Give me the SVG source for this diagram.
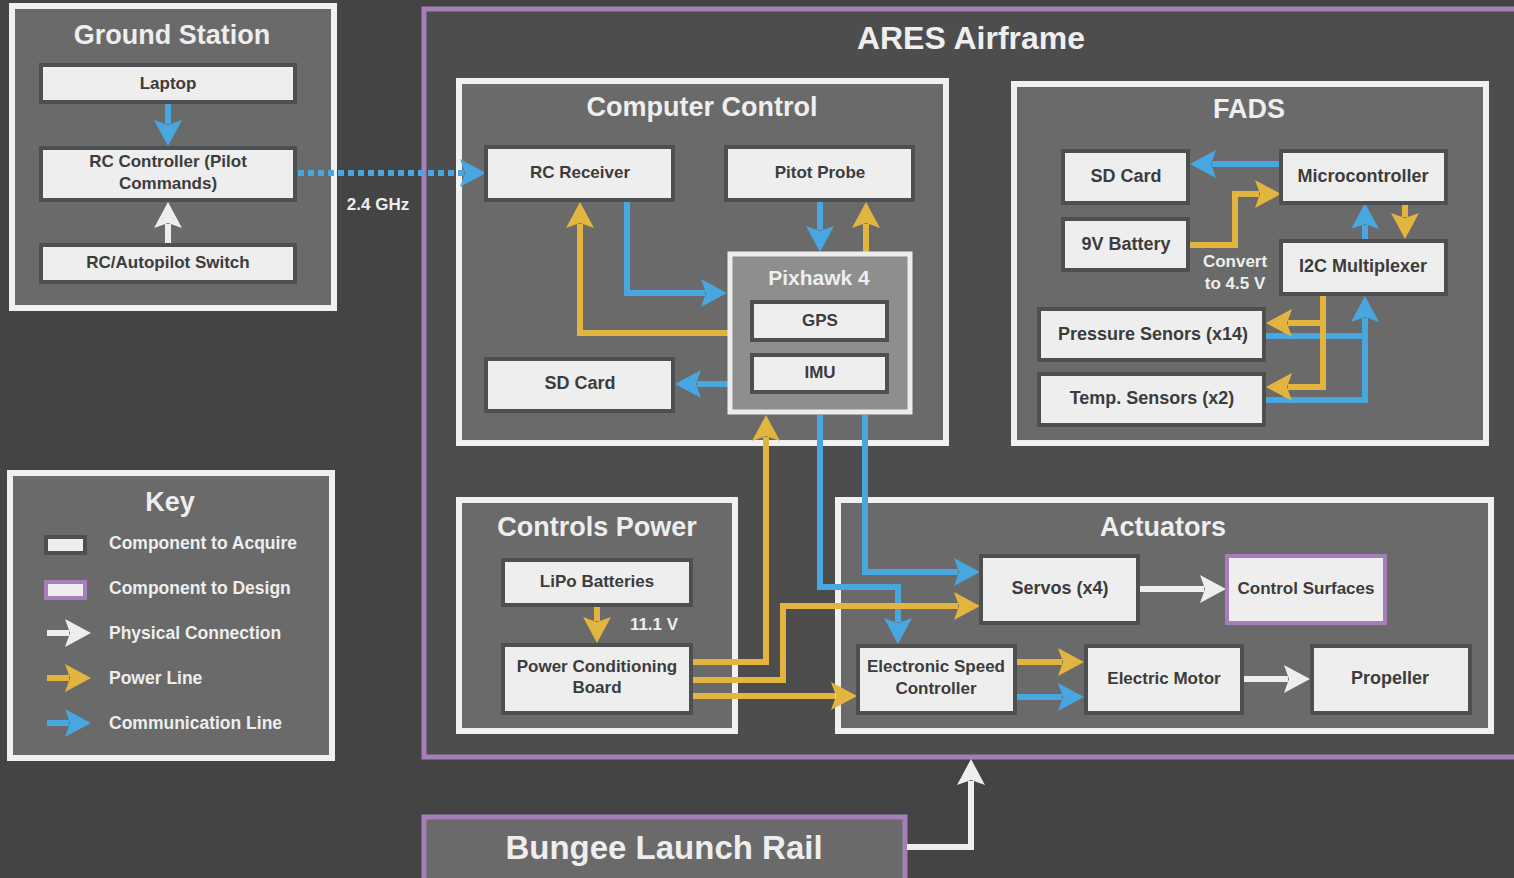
<svg xmlns="http://www.w3.org/2000/svg" width="1514" height="878" viewBox="0 0 1514 878">
<defs>
<style>
.bg{fill:#444444}
.cont{fill:#6a6a6a;stroke:#f0f0f0;stroke-width:6}
.node{fill:#eeeeee;stroke:#4d5053;stroke-width:4}
.design{fill:#eeeeee;stroke:#a47fba;stroke-width:4}
.t{font-family:"Liberation Sans",Arial,sans-serif;font-weight:bold;text-anchor:middle}
.nt{font-size:17px;fill:#3c3c3c}
.nl{font-size:18px;fill:#3c3c3c}
.ct{font-size:27px;fill:#eeeeee}
.lt{font-size:17px;fill:#eeeeee}
.kt{font-family:"Liberation Sans",Arial,sans-serif;font-weight:bold;font-size:17.5px;fill:#eeeeee}
.b{fill:none;stroke:#48a6e0;stroke-width:6}
.y{fill:none;stroke:#e1b53f;stroke-width:6}
.w{fill:none;stroke:#eeeeee;stroke-width:6}
</style>
<marker id="aB" markerUnits="userSpaceOnUse" markerWidth="30" markerHeight="30" viewBox="0 -15 30 30" refX="4" refY="0" orient="auto" overflow="visible"><path d="M0,-14 L26,0 L0,14 L5,0 Z" fill="#48a6e0"/></marker>
<marker id="aY" markerUnits="userSpaceOnUse" markerWidth="30" markerHeight="30" viewBox="0 -15 30 30" refX="4" refY="0" orient="auto" overflow="visible"><path d="M0,-14 L26,0 L0,14 L5,0 Z" fill="#e1b53f"/></marker>
<marker id="aW" markerUnits="userSpaceOnUse" markerWidth="30" markerHeight="30" viewBox="0 -15 30 30" refX="4" refY="0" orient="auto" overflow="visible"><path d="M0,-14 L26,0 L0,14 L5,0 Z" fill="#eeeeee"/></marker>
</defs>
<rect class="bg" x="0" y="0" width="1514" height="878"/>

<!-- Containers -->
<g id="ares-airframe">
<rect x="424" y="9" width="1100" height="748" fill="#4d4d4d" stroke="#a47fba" stroke-width="5"/>
<text class="t" x="971" y="49" font-size="32" fill="#eeeeee">ARES Airframe</text>
</g>
<g id="ground-station">
<rect class="cont" x="12" y="6" width="322" height="302"/>
<text class="t ct" x="172" y="44">Ground Station</text>
</g>
<g id="computer-control">
<rect class="cont" x="459" y="81" width="487" height="362"/>
<text class="t ct" x="702" y="116">Computer Control</text>
</g>
<g id="fads">
<rect class="cont" x="1014" y="84" width="472" height="359"/>
<text class="t ct" x="1249" y="118">FADS</text>
</g>
<g id="controls-power">
<rect class="cont" x="459" y="500" width="276" height="231"/>
<text class="t ct" x="597" y="536">Controls Power</text>
</g>
<g id="actuators">
<rect class="cont" x="838" y="500" width="653" height="231"/>
<text class="t ct" x="1163" y="536">Actuators</text>
</g>
<g id="key">
<rect class="cont" x="10" y="473" width="322" height="285"/>
<text class="t ct" x="170" y="511">Key</text>
<rect x="46" y="537" width="39" height="16" fill="#eeeeee" stroke="#4d5053" stroke-width="4"/>
<text class="kt" x="109" y="549">Component to Acquire</text>
<rect x="46" y="582" width="39" height="16" fill="#eeeeee" stroke="#a47fba" stroke-width="4"/>
<text class="kt" x="109" y="594">Component to Design</text>
<path class="w" d="M47,633 H69" marker-end="url(#aW)"/>
<text class="kt" x="109" y="639">Physical Connection</text>
<path class="y" d="M47,678 H69" marker-end="url(#aY)"/>
<text class="kt" x="109" y="684">Power Line</text>
<path class="b" d="M47,723 H69" marker-end="url(#aB)"/>
<text class="kt" x="109" y="729">Communication Line</text>
</g>
<g id="bungee-launch-rail">
<rect x="424" y="817" width="481" height="80" fill="#6a6a6a" stroke="#a47fba" stroke-width="5"/>
<text class="t" x="664" y="859" font-size="33" fill="#eeeeee">Bungee Launch Rail</text>
</g>

<!-- Connectors -->
<g id="connectors">
<path class="b" d="M168,104 V124" marker-end="url(#aB)"/>
<path class="w" d="M168,243 V224" marker-end="url(#aW)"/>
<path class="b" d="M298,173 H464" stroke-dasharray="6 4" marker-end="url(#aB)"/>
<path class="b" d="M627,202 V293 H705" marker-end="url(#aB)"/>
<path class="y" d="M730,333 H580 V224" marker-end="url(#aY)"/>
<path class="b" d="M730,384 H697" marker-end="url(#aB)"/>
<path class="b" d="M820,202 V230" marker-end="url(#aB)"/>
<path class="y" d="M866,254 V224" marker-end="url(#aY)"/>
<path class="b" d="M820,415 V587 H898 V622" marker-end="url(#aB)"/>
<path class="b" d="M865,415 V572 H958" marker-end="url(#aB)"/>
<path class="y" d="M693,662 H766 V437" marker-end="url(#aY)"/>
<path class="y" d="M693,680 H783 V606 H958" marker-end="url(#aY)"/>
<path class="y" d="M693,696 H835" marker-end="url(#aY)"/>
<path class="y" d="M597,607 V621" marker-end="url(#aY)"/>
<path class="w" d="M1140,589 H1204" marker-end="url(#aW)"/>
<path class="y" d="M1017,662 H1062" marker-end="url(#aY)"/>
<path class="b" d="M1017,697 H1062" marker-end="url(#aB)"/>
<path class="w" d="M1244,679 H1288" marker-end="url(#aW)"/>
<path class="b" d="M1279,164 H1212" marker-end="url(#aB)"/>
<path class="y" d="M1190,245 H1235 V194 H1259" marker-end="url(#aY)"/>
<path class="b" d="M1365,239 V225" marker-end="url(#aB)"/>
<path class="y" d="M1405,205 V217" marker-end="url(#aY)"/>
<path class="b" d="M1266,336 H1365"/>
<path class="b" d="M1266,400 H1365 V318" marker-end="url(#aB)"/>
<path class="y" d="M1323,296 V323 H1288" marker-end="url(#aY)"/>
<path class="y" d="M1323,323 V387 H1288" marker-end="url(#aY)"/>
<path class="w" d="M907,847 H971 V781" marker-end="url(#aW)"/>
</g>

<!-- Nodes -->
<g id="laptop"><rect class="node" x="41" y="65" width="254" height="37"/><text class="t nt" x="168" y="89">Laptop</text></g>
<g id="rc-controller"><rect class="node" x="41" y="148" width="254" height="52"/><text class="t nt" x="168" y="167">RC Controller (Pilot</text><text class="t nt" x="168" y="189">Commands)</text></g>
<g id="rc-autopilot-switch"><rect class="node" x="41" y="245" width="254" height="37"/><text class="t nt" x="168" y="268">RC/Autopilot Switch</text></g>
<text class="t lt" x="378" y="210" font-size="16">2.4 GHz</text>

<g id="rc-receiver"><rect class="node" x="486" y="147" width="187" height="53"/><text class="t nt" x="580" y="178">RC Receiver</text></g>
<g id="pitot-probe"><rect class="node" x="726" y="147" width="187" height="53"/><text class="t nt" x="820" y="178">Pitot Probe</text></g>
<g id="sd-card-cc"><rect class="node" x="486" y="359" width="187" height="52"/><text class="t nl" x="580" y="389">SD Card</text></g>
<g id="pixhawk-4">
<rect x="730" y="254" width="180" height="158" fill="#8e8e8e" stroke="#ececec" stroke-width="5"/>
<text class="t" x="819" y="285" font-size="21" fill="#eeeeee">Pixhawk 4</text>
<g id="gps"><rect class="node" x="752" y="302" width="135" height="38"/><text class="t nt" x="820" y="326">GPS</text></g>
<g id="imu"><rect class="node" x="752" y="355" width="135" height="37"/><text class="t nt" x="820" y="378">IMU</text></g>
</g>

<g id="sd-card-fads"><rect class="node" x="1063" y="151" width="125" height="52"/><text class="t nl" x="1126" y="182">SD Card</text></g>
<g id="battery-9v"><rect class="node" x="1063" y="219" width="125" height="51"/><text class="t nl" x="1126" y="250">9V Battery</text></g>
<g id="microcontroller"><rect class="node" x="1281" y="151" width="165" height="52"/><text class="t nl" x="1363" y="182">Microcontroller</text></g>
<g id="i2c-multiplexer"><rect class="node" x="1281" y="241" width="165" height="53"/><text class="t nl" x="1363" y="272">I2C Multiplexer</text></g>
<g id="pressure-sensors"><rect class="node" x="1039" y="309" width="225" height="51"/><text class="t nl" x="1153" y="340">Pressure Senors (x14)</text></g>
<g id="temp-sensors"><rect class="node" x="1039" y="374" width="225" height="51"/><text class="t nl" x="1152" y="404">Temp. Sensors (x2)</text></g>
<text class="t lt" x="1235" y="267">Convert</text>
<text class="t lt" x="1235" y="289">to 4.5 V</text>

<g id="lipo-batteries"><rect class="node" x="503" y="560" width="188" height="45"/><text class="t nt" x="597" y="587">LiPo Batteries</text></g>
<text class="t lt" x="654" y="630">11.1 V</text>
<g id="power-conditioning-board"><rect class="node" x="503" y="645" width="188" height="68"/><text class="t nt" x="597" y="672">Power Conditioning</text><text class="t nt" x="597" y="693">Board</text></g>

<g id="servos"><rect class="node" x="981" y="556" width="157" height="67"/><text class="t nl" x="1060" y="594">Servos (x4)</text></g>
<g id="control-surfaces"><rect class="design" x="1227" y="556" width="158" height="67"/><text class="t nt" x="1306" y="594">Control Surfaces</text></g>
<g id="esc"><rect class="node" x="858" y="646" width="157" height="67"/><text class="t nt" x="936" y="672">Electronic Speed</text><text class="t nt" x="936" y="694">Controller</text></g>
<g id="electric-motor"><rect class="node" x="1086" y="646" width="156" height="67"/><text class="t nt" x="1164" y="684">Electric Motor</text></g>
<g id="propeller"><rect class="node" x="1312" y="646" width="158" height="67"/><text class="t nl" x="1390" y="684">Propeller</text></g>
</svg>
